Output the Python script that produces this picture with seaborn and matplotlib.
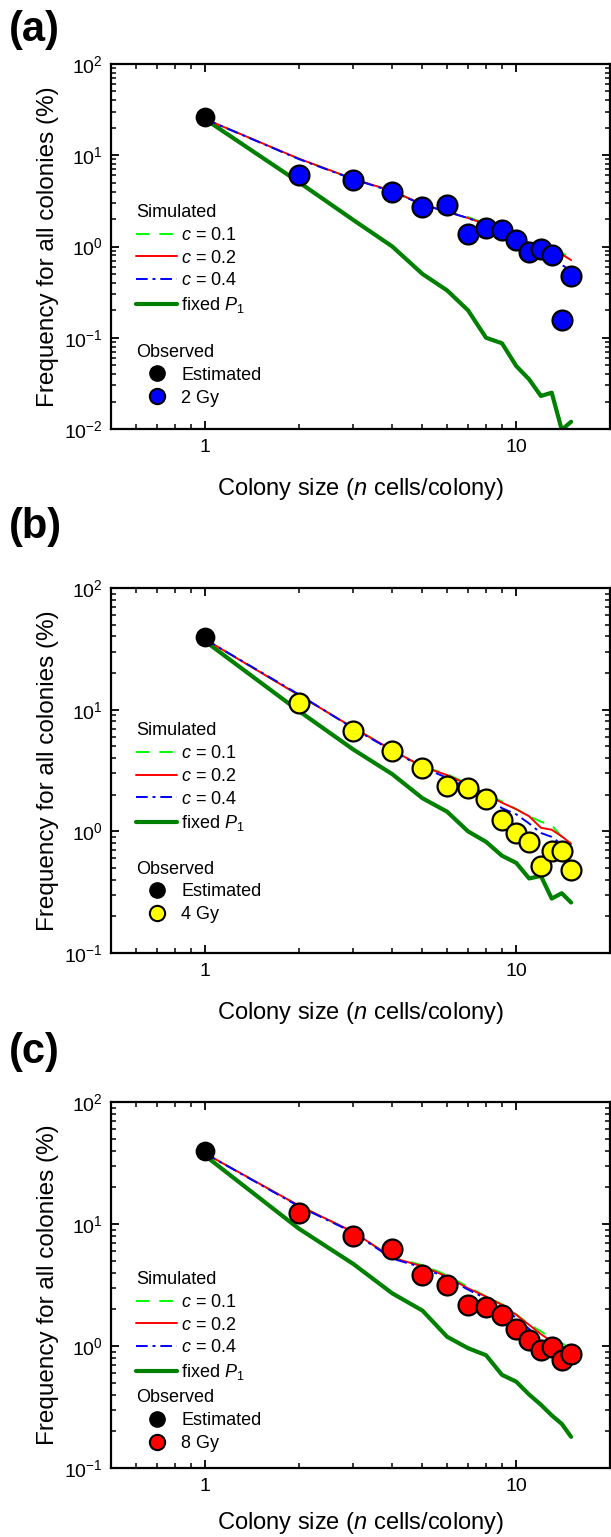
import numpy as np
import pandas as pd
import matplotlib
matplotlib.use("Agg")
import matplotlib.pyplot as plt
from matplotlib.lines import Line2D
from matplotlib.ticker import LogLocator, NullFormatter, FixedLocator, FixedFormatter
import seaborn as sns

sns.set_style("ticks")
plt.rcParams['font.family'] = ['Liberation Sans', 'DejaVu Sans']
plt.rcParams['mathtext.fontset'] = 'custom'
plt.rcParams['mathtext.rm'] = 'Liberation Sans'
plt.rcParams['mathtext.it'] = 'Liberation Sans:italic'
plt.rcParams['mathtext.bf'] = 'Liberation Sans:bold'
plt.rcParams['axes.unicode_minus'] = False
for key in ['text.color', 'axes.labelcolor', 'xtick.color', 'ytick.color']:
    plt.rcParams[key] = 'black'

# ---------------- data ----------------
n_obs = [1, 2, 3, 4, 5, 6, 7, 8, 9, 10, 11, 12, 13, 14, 15]
n_sim = [1, 2, 3, 4, 5, 6, 7, 8, 9, 10, 11, 12, 13, 14, 15]

# panel (a) 2 Gy
estimated_a = 26.2
obs_a = [6.0, 5.3, 4.0, 2.7, 2.84, 1.36, 1.6, 1.51, 1.19, 0.87, 0.95, 0.80, 0.158, 0.47]
c01_a = [25.0, 9.2, 5.5, 4.05, 2.9, 2.42, 2.1, 1.78, 1.52, 1.29, 1.1, 0.99, 0.9, 0.86, 0.73]
c02_a = [25.0, 9.2, 5.5, 4.05, 2.9, 2.4, 2.05, 1.75, 1.5, 1.27, 1.1, 0.98, 0.87, 0.82, 0.71]
c04_a = [25.0, 9.1, 5.45, 4.0, 2.88, 2.4, 2.05, 1.74, 1.5, 1.26, 1.08, 0.96, 0.84, 0.63, 0.54]
fixed_a = [25.0, 5.1, 1.95, 1.0, 0.50, 0.33, 0.20, 0.10, 0.087, 0.049, 0.035, 0.023, 0.025, 0.0098, 0.012]

# panel (b) 4 Gy
estimated_b = 39.6
obs_b = [11.3, 6.7, 4.59, 3.29, 2.37, 2.28, 1.83, 1.25, 0.96, 0.82, 0.52, 0.69, 0.69, 0.48]
c01_b = [38.0, 13.2, 7.1, 4.65, 3.4, 2.95, 2.45, 2.02, 1.76, 1.52, 1.33, 1.2, 1.12, 0.9, 0.81]
c02_b = [38.0, 13.2, 7.1, 4.65, 3.4, 2.9, 2.42, 2.0, 1.72, 1.52, 1.33, 1.07, 1.03, 0.91, 0.79]
c04_b = [38.0, 13.4, 7.0, 4.6, 3.35, 2.75, 2.3, 1.95, 1.55, 1.38, 1.16, 0.97, 0.9, 0.78, 0.61]
fixed_b = [36.7, 9.8, 4.7, 2.95, 1.87, 1.45, 1.0, 0.82, 0.63, 0.55, 0.41, 0.43, 0.28, 0.31, 0.26]

# panel (c) 8 Gy
estimated_c = 39.6
obs_c = [12.3, 7.9, 6.18, 3.8, 3.18, 2.15, 2.07, 1.81, 1.37, 1.12, 0.93, 0.98, 0.77, 0.855]
c01_c = [38.0, 14.2, 8.6, 5.3, 4.6, 3.8, 3.05, 2.55, 2.2, 1.82, 1.5, 1.32, 1.15, 1.05, 0.98]
c02_c = [38.0, 14.2, 8.6, 5.3, 4.5, 3.7, 2.97, 2.54, 2.17, 1.8, 1.49, 1.25, 1.09, 0.99, 0.93]
c04_c = [38.0, 14.0, 8.5, 5.2, 4.4, 3.6, 2.9, 2.45, 2.05, 1.7, 1.38, 1.12, 0.98, 0.9, 0.85]
fixed_c = [36.5, 9.2, 4.7, 2.7, 1.95, 1.19, 0.96, 0.84, 0.58, 0.51, 0.40, 0.33, 0.27, 0.23, 0.18]

panels = [
    dict(tag="(a)", dose="2 Gy", est=estimated_a, obs=obs_a, c01=c01_a, c02=c02_a, c04=c04_a,
         fixed=fixed_a, color="#0000FF", ylim=(0.01, 100)),
    dict(tag="(b)", dose="4 Gy", est=estimated_b, obs=obs_b, c01=c01_b, c02=c02_b, c04=c04_b,
         fixed=fixed_b, color="#FFFF00", ylim=(0.1, 100)),
    dict(tag="(c)", dose="8 Gy", est=estimated_c, obs=obs_c, c01=c01_c, c02=c02_c, c04=c04_c,
         fixed=fixed_c, color="#FF0000", ylim=(0.1, 100)),
]

# ---------------- layout ----------------
W, H = 611, 1537
fig = plt.figure(figsize=(W / 100, H / 100), dpi=100)

ax_left, ax_right = 111, 610
tops = [64, 588, 1102]
bottoms = [429, 953, 1468]
label_y = [30, 527, 1052]
sim_leg_y = [0.616, 0.632, 0.538]
obs_leg_y = [0.233, 0.253, 0.215]
xlabel_pad = [14.5, 14.5, 11.0]

LINE_W = 1.4
FS_TICK = 14
FS_LABEL = 17
FS_LEG = 13
DASH_C01 = (0, (7, 5))
DASH_C04 = (0, (6, 2.5, 1.5, 2.5))

for i, p in enumerate(panels):
    ax = fig.add_axes([ax_left / W, 1 - bottoms[i] / H,
                       (ax_right - ax_left) / W, (bottoms[i] - tops[i]) / H])
    ax.set_xscale("log")
    ax.set_yscale("log")

    sns.lineplot(x=n_sim, y=p["fixed"], ax=ax, color="#008000", lw=3.0, zorder=2)
    sns.lineplot(x=n_sim, y=p["c01"], ax=ax, color="#00FF00", lw=LINE_W,
                 linestyle=DASH_C01, zorder=3)
    sns.lineplot(x=n_sim, y=p["c02"], ax=ax, color="#FF0000", lw=LINE_W, zorder=3)
    sns.lineplot(x=n_sim, y=p["c04"], ax=ax, color="#0000FF", lw=LINE_W,
                 linestyle=DASH_C04, zorder=3)

    sns.scatterplot(x=n_obs[1:], y=p["obs"], ax=ax, s=205, color=p["color"],
                    edgecolor="black", linewidth=1.6, zorder=5)
    sns.scatterplot(x=[n_obs[0]], y=[p["est"]], ax=ax, s=175, color="black",
                    edgecolor="black", linewidth=1.0, zorder=5)

    ax.set_xlim(0.5, 20)
    ax.set_ylim(*p["ylim"])

    ax.xaxis.set_major_locator(FixedLocator([1, 10]))
    ax.xaxis.set_major_formatter(FixedFormatter(["1", "10"]))
    ax.xaxis.set_minor_locator(FixedLocator([0.6, 0.7, 0.8, 0.9, 2, 3, 4, 5, 6, 7, 8, 9]))
    ax.xaxis.set_minor_formatter(NullFormatter())
    ax.yaxis.set_major_locator(LogLocator(base=10, numticks=10))
    ax.yaxis.set_minor_locator(LogLocator(base=10, subs=np.arange(2, 10), numticks=20))
    ax.yaxis.set_minor_formatter(NullFormatter())

    ax.tick_params(which="both", direction="in", top=True, right=True, color="black")
    ax.tick_params(which="major", length=6, width=1.3, labelsize=FS_TICK)
    ax.tick_params(which="minor", length=3.5, width=1.1)
    ax.tick_params(axis="x", which="major", pad=7)
    ax.tick_params(axis="y", which="major", pad=6)
    for s in ax.spines.values():
        s.set_linewidth(1.6)
        s.set_color("black")
        s.set_visible(True)

    ax.set_xlabel(r"Colony size ($\it{n}$ cells/colony)", fontsize=FS_LABEL,
                  labelpad=xlabel_pad[i])
    ax.set_ylabel("Frequency for all colonies (%)", fontsize=17.5, labelpad=3.5)

    sim_handles = [
        Line2D([], [], color="#00FF00", lw=LINE_W, linestyle=DASH_C01),
        Line2D([], [], color="#FF0000", lw=LINE_W),
        Line2D([], [], color="#0000FF", lw=LINE_W, linestyle=DASH_C04),
        Line2D([], [], color="#008000", lw=3.0),
    ]
    sim_labels = [r"$\it{c}$ = 0.1", r"$\it{c}$ = 0.2", r"$\it{c}$ = 0.4",
                  r"fixed $\it{P}_{\it{1}}$"]
    leg1 = ax.legend(sim_handles, sim_labels, title="Simulated", loc="upper left",
                     bbox_to_anchor=(0.05, sim_leg_y[i]), frameon=False, fontsize=FS_LEG,
                     title_fontsize=FS_LEG, borderpad=0, borderaxespad=0, handlelength=2.3,
                     handletextpad=0.2, labelspacing=0.32, alignment="left")
    ax.add_artist(leg1)

    obs_handles = [
        Line2D([], [], marker="o", linestyle="none", markersize=11,
               markerfacecolor="black", markeredgecolor="black"),
        Line2D([], [], marker="o", linestyle="none", markersize=11,
               markerfacecolor=p["color"], markeredgecolor="black", markeredgewidth=1.5),
    ]
    leg2 = ax.legend(obs_handles, ["Estimated", p["dose"]], title="Observed", loc="upper left",
                     bbox_to_anchor=(0.05, obs_leg_y[i]), frameon=False, fontsize=FS_LEG,
                     title_fontsize=FS_LEG, borderpad=0, borderaxespad=0, handlelength=2.3,
                     handletextpad=0.2, labelspacing=0.32, alignment="left")

    fig.text(9 / W, 1 - label_y[i] / H, p["tag"], fontsize=30, fontweight="bold",
             ha="left", va="center")

fig.savefig("out.png", dpi=100, facecolor="white")
